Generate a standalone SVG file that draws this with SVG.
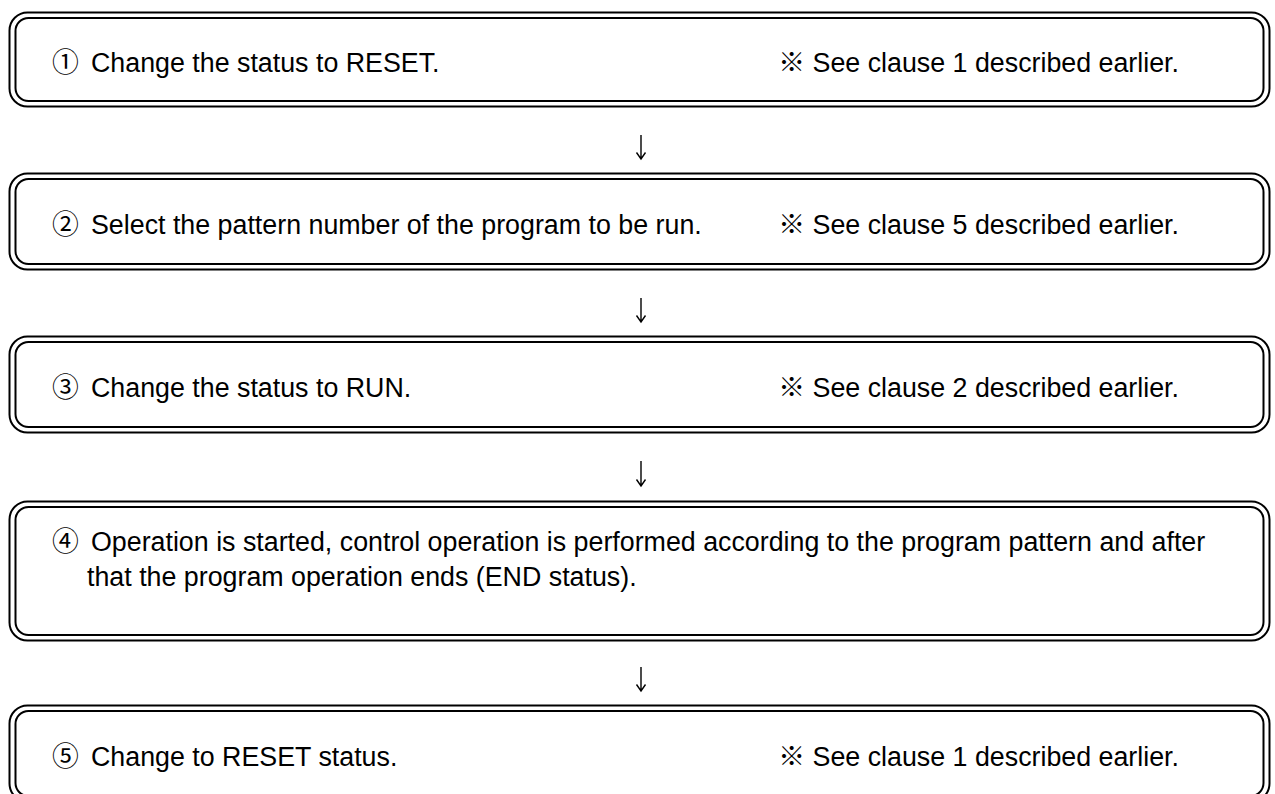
<svg xmlns="http://www.w3.org/2000/svg" width="1275" height="794" viewBox="0 0 1275 794">
<style>
.o{fill:none;stroke:#000;stroke-width:2}
.i{fill:none;stroke:#000;stroke-width:2}
.t{font-family:"Liberation Sans","Noto Sans CJK JP",Arial,sans-serif;font-size:26.8px;fill:#000}
.r{text-anchor:end}
.a{fill:none;stroke:#000;stroke-width:1.4}
</style>
<rect width="1275" height="794" fill="#fff"/>
<g id="n1">
<rect class="o" x="9.5" y="12.5" width="1260" height="94" rx="18"/>
<rect class="i" x="15.5" y="18" width="1248" height="83" rx="13"/>
<text class="t" x="52" y="72">①</text>
<text class="t" x="91" y="72">Change the status to RESET.</text>
<text class="t r" x="1179" y="72">※ See clause 1 described earlier.</text>
</g>
<g id="n2">
<rect class="o" x="9.5" y="173.5" width="1260" height="96" rx="18"/>
<rect class="i" x="15.5" y="179" width="1248" height="85" rx="13"/>
<text class="t" x="52" y="234">②</text>
<text class="t" x="91" y="234">Select the pattern number of the program to be run.</text>
<text class="t r" x="1179" y="234">※ See clause 5 described earlier.</text>
</g>
<g id="n3">
<rect class="o" x="9.5" y="336.5" width="1260" height="96" rx="18"/>
<rect class="i" x="15.5" y="342" width="1248" height="85" rx="13"/>
<text class="t" x="52" y="397">③</text>
<text class="t" x="91" y="397">Change the status to RUN.</text>
<text class="t r" x="1179" y="397">※ See clause 2 described earlier.</text>
</g>
<g id="n4">
<rect class="o" x="9.5" y="501.5" width="1260" height="139" rx="18"/>
<rect class="i" x="15.5" y="507" width="1248" height="128" rx="13"/>
<text class="t" x="52" y="551">④</text>
<text class="t" x="91" y="551">Operation is started, control operation is performed according to the program pattern and after</text>
<text class="t" x="87" y="586">that the program operation ends (END status).</text>
</g>
<g id="n5">
<rect class="o" x="9.5" y="705.5" width="1260" height="96" rx="18"/>
<rect class="i" x="15.5" y="711" width="1248" height="85" rx="13"/>
<text class="t" x="52" y="766">⑤</text>
<text class="t" x="91" y="766">Change to RESET status.</text>
<text class="t r" x="1179" y="766">※ See clause 1 described earlier.</text>
</g>
<g id="connectors">
<path class="a" d="M641 135V159M636.5 152.5L641 159L645.5 152.5"/>
<path class="a" d="M641 298V322M636.5 315.5L641 322L645.5 315.5"/>
<path class="a" d="M641 461V486M636.5 479.5L641 486L645.5 479.5"/>
<path class="a" d="M641 667V691M636.5 684.5L641 691L645.5 684.5"/>
</g>
</svg>
